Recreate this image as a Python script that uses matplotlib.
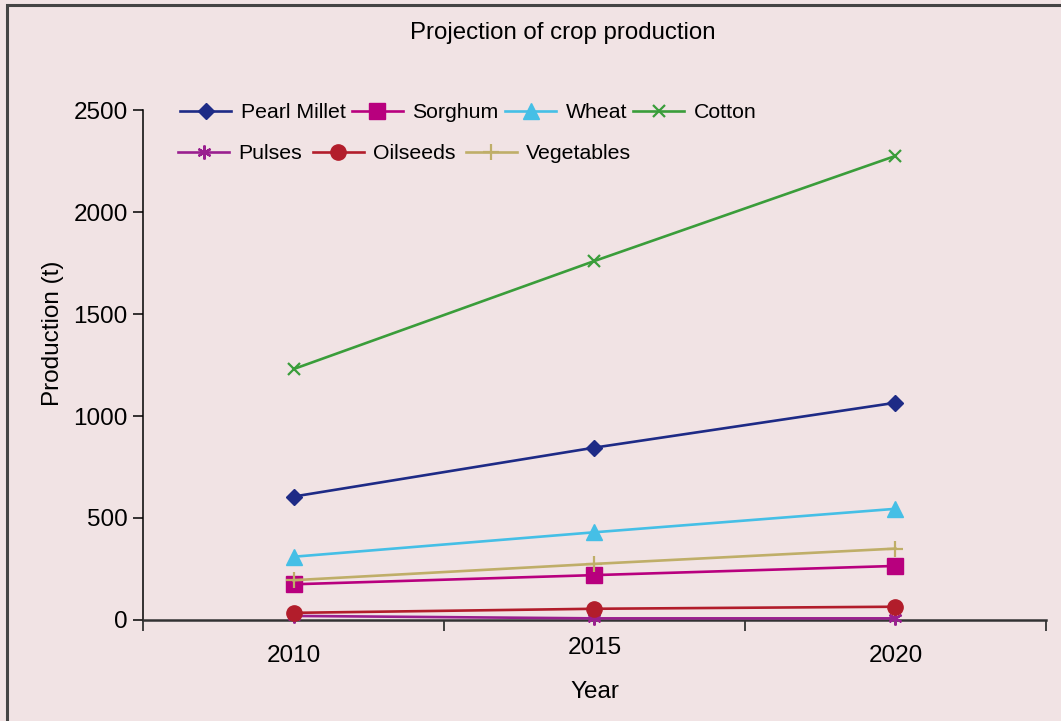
"""
Projection of crop production, 2010-2020, for seven crops.
"""

import matplotlib
matplotlib.use("Agg")
import matplotlib.pyplot as plt
from matplotlib.patches import Rectangle


# ── data (t) ────────────────────────────────────────────────────────────────
YEARS = ["2010", "2015", "2020"]

pearl_millet = [605, 845, 1065]
sorghum      = [175, 220, 265]
wheat        = [310, 430, 545]
cotton       = [1230, 1760, 2275]
pulses       = [20, 8, 8]
oilseeds     = [35, 55, 65]
vegetables   = [195, 275, 350]

BG = "#f1e3e4"

# name, values, colour, marker, marker size
SERIES = [
    ("Pearl Millet", pearl_millet, "#1e2b86", "D", 8),
    ("Sorghum",      sorghum,      "#b8007e", "s", 12),
    ("Wheat",        wheat,        "#45bfe6", "^", 11),
    ("Cotton",       cotton,       "#3a9d3a", "x", 9),
    ("Pulses",       pulses,       "#9a1f8f", (6, 2, 0), 10),
    ("Oilseeds",     oilseeds,     "#b21d2b", "o", 11),
    ("Vegetables",   vegetables,   "#bfae68", "+", 11),
]

plt.rcParams["font.family"] = ["Liberation Sans", "DejaVu Sans"]

fig = plt.figure(figsize=(10.61, 7.21), dpi=100, facecolor=BG)
ax = fig.add_axes([0.1348, 0.1401, 0.851, 0.7073], facecolor=BG)

# outer frame (runs off the right and bottom edge)
fig.patches.append(Rectangle((7 / 1061, -0.05), 1.2, 1 - 5 / 721 + 0.05,
                             transform=fig.transFigure, fill=False,
                             edgecolor="#444444", lw=2.2, zorder=0))

x = list(range(len(YEARS)))
handles = []
for name, vals, col, mk, ms in SERIES:
    filled = mk not in ("x", "+") and not isinstance(mk, tuple)
    line, = ax.plot(x, vals, color=col, lw=1.9, marker=mk, markersize=ms,
                    markerfacecolor=col, markeredgecolor=col,
                    markeredgewidth=1.0 if filled else 1.6,
                    label=name, clip_on=False, zorder=3)
    handles.append(line)

ax.set_xlim(-0.5, 2.5)
ax.set_ylim(0, 2500)
ax.set_yticks([0, 500, 1000, 1500, 2000, 2500])

# category boundaries as major ticks, labels on minor ticks
ax.set_xticks([-0.5, 0.5, 1.5, 2.5])
ax.set_xticklabels([])
ax.set_xticks(x, minor=True)
ax.set_xticklabels(YEARS, minor=True)
ax.tick_params(axis="x", which="major", direction="out", length=8, width=1.3, color="#333333")
ax.tick_params(axis="x", which="minor", length=0, labelsize=17.5, pad=18)
ax.xaxis.get_minor_ticks()[1].set_pad(12)
ax.tick_params(axis="y", direction="out", length=7, width=1.1, labelsize=17.5, pad=4)

for side in ("top", "right"):
    ax.spines[side].set_visible(False)
ax.spines["left"].set_linewidth(1.1)
ax.spines["bottom"].set_linewidth(1.8)
ax.spines["bottom"].set_color("#333333")

ax.set_xlabel("Year", fontsize=17.5, labelpad=10)
ax.set_ylabel("Production (t)", fontsize=17.5)
ax.yaxis.set_label_coords(-0.088, 0.563)
fig.text(563 / 1061, 1 - 33 / 721, "Projection of crop production",
         ha="center", va="center", fontsize=17.3)

# two-row legend laid out like a flowing text legend
leg_kw = dict(frameon=False, fontsize=15.3, handlelength=2.4, handletextpad=0.45,
              borderaxespad=0, borderpad=0)
leg1 = ax.legend(handles=handles[:4], ncol=4, loc="upper left", columnspacing=0.3,
                 bbox_to_anchor=(180 / 1061, 1 - 103 / 721),
                 bbox_transform=fig.transFigure, **leg_kw)
ax.add_artist(leg1)
ax.legend(handles=handles[4:], ncol=3, loc="upper left", columnspacing=0.48,
          bbox_to_anchor=(178 / 1061, 1 - 144 / 721),
          bbox_transform=fig.transFigure, **leg_kw)

fig.savefig("out.png", dpi=100, facecolor=BG)
